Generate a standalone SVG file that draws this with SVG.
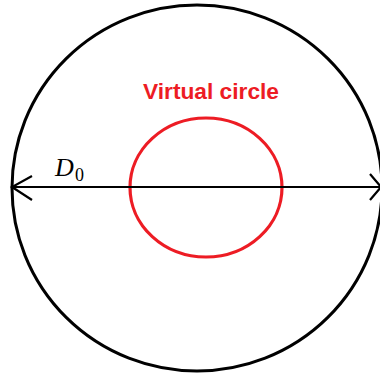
<svg xmlns="http://www.w3.org/2000/svg" width="380" height="377" viewBox="0 0 380 377">
<defs>
<style>
.outer{fill:none;stroke:#000;stroke-width:3}
.virtual{fill:none;stroke:#ED1C24;stroke-width:3.2}
.conn{fill:none;stroke:#000;stroke-width:2.2}
.lbl{font-family:"Liberation Sans",Arial,sans-serif;font-weight:bold;font-size:22px;fill:#ED1C24}
.math{font-family:"Liberation Serif","Times New Roman",serif;font-style:italic;font-size:26px;fill:#000}
.sub{font-family:"Liberation Serif","Times New Roman",serif;font-size:18px;fill:#000}
</style>
</defs>
<rect width="380" height="377" fill="#fff"/>
<g id="outer-circle">
<ellipse class="outer" cx="197" cy="188" rx="185" ry="183"/>
</g>
<g id="virtual-circle">
<ellipse class="virtual" cx="206" cy="187.5" rx="76" ry="69.5"/>
<text class="lbl" x="211" y="99" text-anchor="middle" textLength="136" lengthAdjust="spacingAndGlyphs">Virtual circle</text>
</g>
<g id="connectors">
<line class="conn" x1="12" y1="187" x2="381" y2="187"/>
<polyline class="conn" points="32,176 12,187 32,200"/>
<polyline class="conn" points="370,174 381,187 370,200"/>
</g>
<g id="d0-label">
<text class="math" x="55" y="176">D</text>
<text class="sub" x="75" y="181">0</text>
</g>
</svg>
